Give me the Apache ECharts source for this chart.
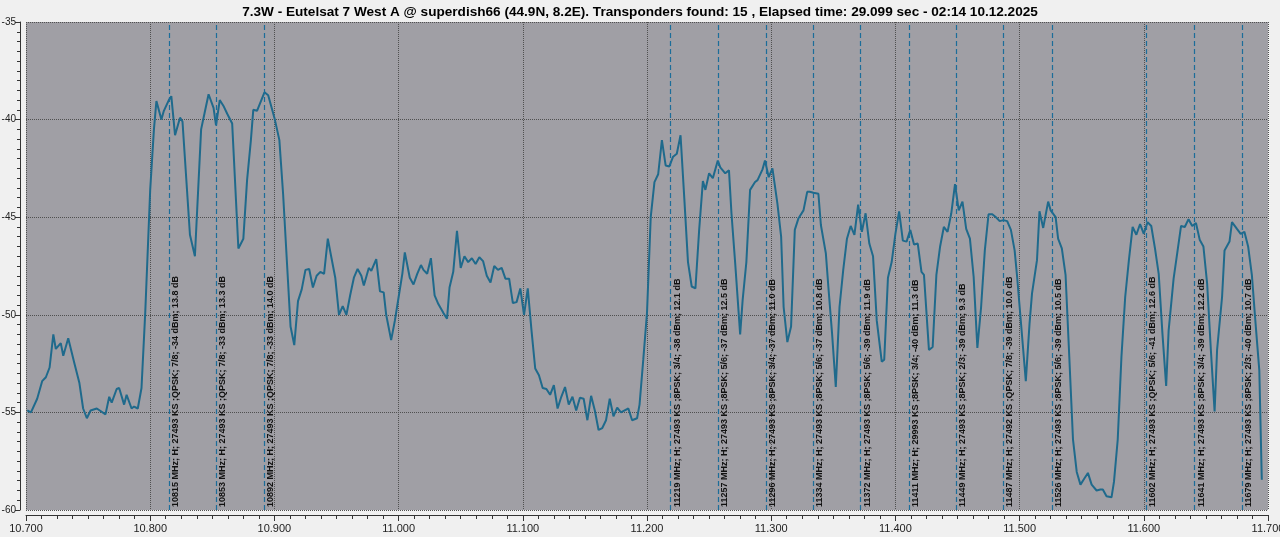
<!DOCTYPE html>
<html><head><meta charset="utf-8">
<script src="https://cdn.jsdelivr.net/npm/echarts@6/dist/echarts.min.js"></script>
<style>html,body{margin:0;padding:0;background:#f0f0f0;}#c{width:1280px;height:537px;}</style>
</head><body><div id="c"></div>
<script>
const titleText = "7.3W - Eutelsat 7 West A @ superdish66 (44.9N, 8.2E). Transponders found: 15 , Elapsed time: 29.099 sec - 02:14 10.12.2025";
// spectrum trace: [frequency MHz, level dBm]
const trace = [[10701,-54.9],[10704,-55.0],[10709,-54.3],[10713,-53.4],[10716,-53.2],[10719,-52.7],[10722,-51.0],[10724,-51.75],[10728,-51.45],[10730,-52.1],[10734,-51.2],[10739,-52.5],[10743,-53.5],[10746,-54.8],[10749,-55.3],[10752,-54.9],[10757,-54.8],[10764,-55.1],[10767,-54.2],[10769,-54.5],[10773,-53.8],[10775,-53.75],[10779,-54.6],[10781,-54.1],[10785,-54.8],[10787,-54.7],[10790,-54.8],[10793,-53.75],[10796,-49.9],[10800,-43.6],[10803,-40.5],[10805,-39.05],[10809,-40.0],[10811,-39.55],[10815,-39.0],[10817,-38.8],[10820,-40.8],[10824,-39.9],[10826,-40.1],[10832,-45.9],[10836,-47.0],[10841,-40.5],[10844,-39.6],[10847,-38.7],[10851,-39.4],[10853,-40.3],[10856,-39.0],[10859,-39.3],[10862,-39.7],[10866,-40.2],[10871,-46.6],[10875,-46.1],[10878,-43.1],[10881,-41.1],[10883,-39.5],[10886,-39.55],[10892,-38.6],[10895,-38.75],[10900,-39.9],[10904,-41.05],[10907,-43.8],[10913,-50.6],[10916,-51.55],[10919,-49.3],[10922,-48.7],[10925,-47.7],[10928,-47.65],[10931,-48.6],[10934,-48.0],[10937,-47.8],[10940,-47.9],[10943,-46.1],[10946,-47.1],[10949,-48.1],[10952,-50.0],[10955,-49.55],[10958,-50.0],[10961,-49.0],[10964,-48.1],[10967,-47.65],[10970,-48.0],[10972,-48.5],[10976,-47.6],[10978,-47.75],[10982,-47.15],[10985,-48.8],[10988,-48.85],[10990,-50.0],[10994,-51.3],[10997,-50.3],[11000,-49.1],[11003,-47.9],[11005,-46.8],[11009,-48.1],[11012,-48.45],[11015,-47.9],[11018,-47.45],[11020,-47.7],[11023,-47.9],[11026,-47.1],[11029,-49.0],[11032,-49.45],[11036,-49.9],[11039,-50.2],[11041,-48.6],[11044,-47.8],[11047,-45.7],[11050,-47.6],[11053,-47.0],[11056,-47.3],[11059,-47.1],[11062,-47.4],[11065,-47.05],[11068,-47.25],[11071,-48.0],[11074,-48.35],[11077,-47.5],[11080,-47.7],[11083,-47.6],[11086,-48.15],[11089,-48.15],[11092,-49.4],[11095,-49.35],[11098,-48.65],[11101,-50.0],[11104,-48.65],[11107,-50.8],[11110,-52.75],[11113,-53.1],[11116,-53.75],[11119,-53.8],[11122,-54.1],[11125,-53.6],[11128,-54.8],[11131,-54.2],[11134,-53.7],[11137,-54.6],[11140,-54.2],[11143,-54.9],[11146,-54.25],[11149,-54.3],[11152,-55.4],[11155,-54.15],[11158,-54.9],[11161,-55.9],[11164,-55.8],[11167,-55.4],[11170,-54.3],[11173,-55.2],[11176,-54.75],[11179,-55.0],[11182,-54.9],[11185,-54.8],[11188,-55.4],[11192,-55.3],[11194,-54.6],[11197,-52.3],[11200,-49.9],[11203,-45.0],[11206,-43.2],[11209,-42.8],[11212,-41.05],[11215,-42.35],[11218,-42.4],[11221,-41.9],[11224,-41.75],[11227,-40.8],[11230,-44.0],[11233,-47.3],[11236,-48.55],[11239,-48.65],[11242,-45.65],[11245,-43.15],[11247,-43.6],[11250,-42.75],[11253,-43.0],[11257,-42.1],[11259,-42.45],[11263,-42.75],[11266,-42.6],[11268,-44.8],[11271,-47.35],[11275,-51.0],[11277,-49.25],[11280,-47.3],[11283,-43.6],[11287,-43.2],[11289,-43.1],[11293,-42.55],[11295,-42.1],[11298,-42.95],[11301,-42.5],[11305,-44.3],[11308,-46.0],[11310,-49.6],[11313,-51.4],[11316,-50.6],[11319,-45.65],[11322,-45.05],[11326,-44.65],[11329,-43.7],[11331,-43.7],[11334,-43.75],[11338,-43.8],[11340,-45.4],[11344,-46.85],[11346,-48.55],[11349,-50.95],[11352,-53.7],[11355,-49.6],[11358,-47.7],[11361,-46.1],[11364,-45.45],[11367,-45.9],[11370,-44.35],[11373,-45.75],[11376,-44.8],[11379,-46.35],[11382,-47.0],[11385,-50.3],[11389,-52.4],[11391,-52.3],[11394,-48.1],[11397,-47.3],[11400,-45.85],[11403,-44.7],[11406,-46.2],[11409,-46.25],[11412,-45.65],[11415,-46.4],[11418,-46.35],[11421,-47.8],[11423,-47.95],[11427,-51.8],[11430,-51.65],[11433,-47.95],[11436,-46.5],[11439,-45.5],[11442,-45.75],[11445,-44.8],[11448,-43.3],[11451,-44.65],[11454,-44.2],[11457,-45.6],[11460,-46.1],[11463,-48.05],[11466,-51.7],[11469,-49.6],[11472,-46.7],[11475,-44.85],[11478,-44.85],[11481,-45.0],[11484,-45.2],[11487,-45.15],[11490,-45.2],[11493,-45.65],[11496,-46.7],[11498,-48.05],[11502,-51.1],[11505,-53.4],[11508,-50.45],[11510,-48.9],[11514,-47.2],[11516,-44.7],[11519,-45.55],[11523,-44.2],[11525,-44.65],[11529,-45.0],[11531,-46.1],[11534,-46.6],[11537,-47.95],[11540,-52.15],[11543,-56.4],[11546,-58.05],[11549,-58.7],[11552,-58.4],[11555,-58.1],[11558,-58.7],[11562,-59.0],[11565,-58.95],[11567,-58.95],[11570,-59.3],[11574,-59.35],[11576,-58.55],[11579,-56.4],[11582,-52.15],[11585,-49.1],[11588,-47.2],[11591,-45.5],[11594,-45.9],[11597,-45.35],[11600,-45.85],[11603,-45.25],[11606,-45.45],[11609,-46.6],[11612,-47.9],[11615,-50.95],[11618,-53.65],[11620,-50.8],[11624,-48.15],[11627,-46.8],[11630,-45.45],[11633,-45.5],[11636,-45.1],[11639,-45.45],[11642,-45.3],[11645,-46.15],[11648,-46.5],[11651,-48.4],[11654,-51.8],[11657,-54.95],[11659,-51.8],[11663,-49.1],[11665,-46.7],[11669,-46.25],[11671,-45.25],[11675,-45.6],[11678,-45.85],[11681,-45.75],[11684,-46.5],[11687,-47.95],[11690,-50.45],[11693,-52.85],[11695,-58.45]];
const tpFreqs = [10815,10853,10892,11219,11257,11296,11334,11372,11411,11449,11487,11526,11602,11641,11679];
const tpLabels = [
"10815 MHz; H; 27493 KS ;QPSK; 7/8; -34 dBm; 13.8 dB",
"10853 MHz; H; 27493 KS ;QPSK; 7/8; -33 dBm; 13.3 dB",
"10892 MHz; H; 27493 KS ;QPSK; 7/8; -33 dBm; 14.0 dB",
"11219 MHz; H; 27493 KS ;8PSK; 3/4; -38 dBm; 12.1 dB",
"11257 MHz; H; 27493 KS ;8PSK; 5/6; -37 dBm; 12.5 dB",
"11296 MHz; H; 27493 KS ;8PSK; 3/4; -37 dBm; 11.0 dB",
"11334 MHz; H; 27493 KS ;8PSK; 5/6; -37 dBm; 10.8 dB",
"11372 MHz; H; 27493 KS ;8PSK; 5/6; -39 dBm; 11.9 dB",
"11411 MHz; H; 29993 KS ;8PSK; 3/4; -40 dBm; 11.3 dB",
"11449 MHz; H; 27493 KS ;8PSK; 2/3; -39 dBm; 9.3 dB",
"11487 MHz; H; 27492 KS ;QPSK; 7/8; -39 dBm; 10.0 dB",
"11526 MHz; H; 27493 KS ;8PSK; 5/6; -39 dBm; 10.5 dB",
"11602 MHz; H; 27493 KS ;QPSK; 5/6; -41 dBm; 12.6 dB",
"11641 MHz; H; 27493 KS ;8PSK; 3/4; -39 dBm; 12.2 dB",
"11679 MHz; H; 27493 KS ;8PSK; 2/3; -40 dBm; 10.7 dB"];
const xMin = 10700, xMax = 11700, xStep = 100;
const yMin = -60, yMax = -35, yStep = 5;

const chart = echarts.init(document.getElementById('c'), null, {renderer:'canvas'});
chart.setOption({
  animation:false,
  backgroundColor:'#f0f0f0',
  title:{text:titleText, left:'center', top:0, textStyle:{fontFamily:'Liberation Sans', fontWeight:'bold', fontSize:13.6, color:'#000'}},
  grid:{left:26, right:12, top:22, bottom:27, show:true, backgroundColor:'#a09fa5', borderWidth:0, containLabel:false, outerBoundsMode:'none'},
  xAxis:{type:'value', min:xMin, max:xMax, interval:xStep, offset:5,
    axisLine:{show:true, lineStyle:{color:'#333', width:1}},
    axisTick:{show:true, length:6, lineStyle:{color:'#333'}},
    minorTick:{show:true, splitNumber:8, length:4, lineStyle:{color:'#333'}},
    axisLabel:{formatter:v=>(v/1000).toFixed(3), fontSize:11, color:'#222', fontFamily:'Liberation Sans', margin:8},
    splitLine:{show:true, lineStyle:{type:'dotted', color:'#505050', width:1}}},
  yAxis:{type:'value', min:yMin, max:yMax, interval:yStep, offset:6,
    axisLine:{show:true, lineStyle:{color:'#333', width:1}},
    axisTick:{show:true, length:5, lineStyle:{color:'#333'}},
    minorTick:{show:true, splitNumber:10, length:3, lineStyle:{color:'#333'}},
    axisLabel:{fontSize:10, color:'#222', fontFamily:'Liberation Sans', margin:4},
    splitLine:{show:true, lineStyle:{type:'dotted', color:'#505050', width:1}}},
  series:[{type:'line', data:trace, showSymbol:false, symbol:'none',
    lineStyle:{color:'#1f6a8c', width:2},
    markLine:{silent:true, symbol:'none', animation:false,
      lineStyle:{type:[5,3], color:'#1c6d9a', width:1.2},
      label:{show:true, position:'insideStartBottom', distance:[3,2], formatter:p=>p.name,
        fontFamily:'Liberation Sans', fontWeight:'bold', fontSize:9, color:'#111'},
      data: tpFreqs.map((f,i)=>({xAxis:f, name:tpLabels[i]}))}
  }]
});
</script></body></html>
